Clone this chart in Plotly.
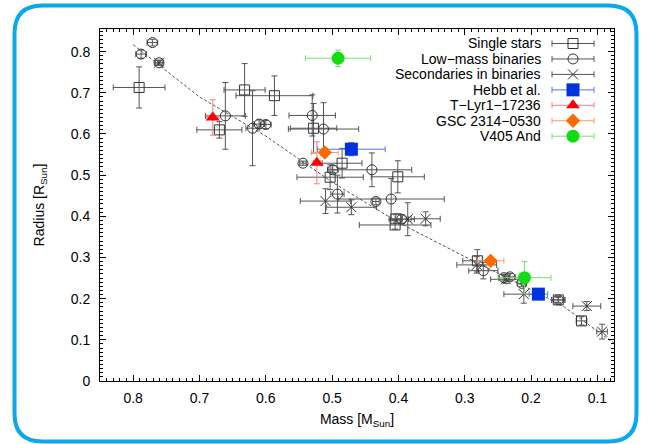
import plotly.graph_objects as go

# ---------------- data ----------------
single_mass = [0.791, 0.670, 0.632, 0.587, 0.528, 0.485, 0.503, 0.401, 0.404, 0.405, 0.281, 0.124, 0.159]
single_rad = [0.713, 0.610, 0.707, 0.693, 0.614, 0.529, 0.495, 0.496, 0.394, 0.379, 0.292, 0.146, 0.197]
single_mass_err = [0.039, 0.034, 0.031, 0.058, 0.035, 0.030, 0.050, 0.040, 0.010, 0.054, 0.022, 0.008, 0.010]
single_rad_err = [0.050, 0.020, 0.064, 0.048, 0.060, 0.036, 0.030, 0.039, 0.010, 0.010, 0.027, 0.010, 0.008]

binary_mass = [0.771, 0.788, 0.761, 0.661, 0.620, 0.610, 0.600, 0.530, 0.513, 0.544, 0.499,
               0.440, 0.492, 0.434, 0.411, 0.395, 0.272, 0.241, 0.232, 0.214, 0.159]
binary_rad = [0.822, 0.794, 0.773, 0.644, 0.614, 0.624, 0.623, 0.645, 0.612, 0.529, 0.513,
              0.513, 0.454, 0.436, 0.442, 0.393, 0.268, 0.251, 0.253, 0.237, 0.197]
binary_mass_err = [0.008, 0.008, 0.006, 0.030, 0.010, 0.008, 0.008, 0.035, 0.053, 0.005, 0.008,
                   0.060, 0.010, 0.005, 0.080, 0.010, 0.022, 0.008, 0.008, 0.006, 0.010]
binary_rad_err = [0.008, 0.010, 0.006, 0.081, 0.091, 0.010, 0.010, 0.050, 0.064, 0.005, 0.010,
                  0.041, 0.046, 0.008, 0.050, 0.010, 0.020, 0.008, 0.008, 0.008, 0.006]

second_mass = [0.761, 0.510, 0.471, 0.386, 0.359, 0.282, 0.238, 0.211, 0.116, 0.093]
second_rad = [0.773, 0.437, 0.422, 0.393, 0.394, 0.282, 0.247, 0.211, 0.182, 0.120]
second_mass_err = [0.006, 0.038, 0.038, 0.010, 0.022, 0.030, 0.023, 0.030, 0.021, 0.008]
second_rad_err = [0.006, 0.030, 0.018, 0.040, 0.017, 0.020, 0.010, 0.022, 0.011, 0.018]

hebb_mass = [0.471, 0.189]
hebb_rad = [0.563, 0.211]
hebb_mass_err = [0.051, 0.014]
hebb_rad_err = [0.016, 0.006]

tlyr_mass = [0.680, 0.523]
tlyr_rad = [0.640, 0.530]
tlyr_mass_err = [0.009, 0.005]
tlyr_rad_err = [0.043, 0.051]

gsc_mass = [0.511, 0.261]
gsc_rad = [0.555, 0.292]
gsc_mass_err = [0.020, 0.020]
gsc_rad_err = [0.010, 0.008]

v405_mass = [0.491, 0.210]
v405_rad = [0.784, 0.251]
v405_mass_err = [0.049, 0.040]
v405_rad_err = [0.020, 0.039]

model_mass = [0.8, 0.7, 0.6, 0.5, 0.4, 0.3, 0.2, 0.15, 0.1, 0.075]
model_rad = [0.817, 0.69, 0.595, 0.483, 0.385, 0.302, 0.222, 0.18, 0.121, 0.092]

x_ticks = [0.8, 0.7, 0.6, 0.5, 0.4, 0.3, 0.2, 0.1]
y_ticks = [0, 0.1, 0.2, 0.3, 0.4, 0.5, 0.6, 0.7, 0.8]

legend_names = ["Single stars", "Low\u2212mass binaries", "Secondaries in binaries",
                "Hebb et al.", "T\u2212Lyr1\u221217236", "GSC 2314\u22120530", "V405 And"]

# ---------------- styles ----------------
FONT = "Liberation Sans, Arial, Helvetica, sans-serif"
styles = [
    dict(symbol="square-open", size=10, color="#333333", line=dict(width=1, color="#333333"), err="#555555"),
    dict(symbol="circle-open", size=10, color="#333333", line=dict(width=1, color="#333333"), err="#555555"),
    dict(symbol="x-thin-open", size=10, color="#333333", line=dict(width=1, color="#333333"), err="#555555"),
    dict(symbol="square", size=13, color="#0033dd", line=dict(width=0), err="#5577dd"),
    dict(symbol="triangle-up", size=12, color="#ff0000", line=dict(width=0), err="#f08080"),
    dict(symbol="diamond", size=11, color="#ff6a00", line=dict(width=0), err="#ff9966"),
    dict(symbol="circle", size=13, color="#11dd11", line=dict(width=0), err="#77e077"),
]
series = [
    (single_mass, single_rad, single_mass_err, single_rad_err),
    (binary_mass, binary_rad, binary_mass_err, binary_rad_err),
    (second_mass, second_rad, second_mass_err, second_rad_err),
    (hebb_mass, hebb_rad, hebb_mass_err, hebb_rad_err),
    (tlyr_mass, tlyr_rad, tlyr_mass_err, tlyr_rad_err),
    (gsc_mass, gsc_rad, gsc_mass_err, gsc_rad_err),
    (v405_mass, v405_rad, v405_mass_err, v405_rad_err),
]

fig = go.Figure()

fig.add_trace(go.Scatter(x=model_mass, y=model_rad, mode="lines",
                         line=dict(color="#555555", width=1, dash="3px,2px"),
                         showlegend=False, hoverinfo="skip"))

for (mx, ry, mxe, rye), st in zip(series, styles):
    fig.add_trace(go.Scatter(
        x=mx, y=ry, mode="markers",
        marker=dict(symbol=st["symbol"], size=st["size"], color=st["color"], line=st["line"]),
        error_x=dict(type="data", array=mxe, color=st["err"], thickness=1, width=3),
        error_y=dict(type="data", array=rye, color=st["err"], thickness=1, width=3),
        showlegend=False,
    ))

# ---------------- custom legend (symbol to the right of text) ----------------
W, H = 650, 444
L, R, T, B = 100, 36, 29, 63
pw, ph = W - L - R, H - T - B


def px2paper_x(px):
    return (px - L) / pw


def py2paper_y(py):
    return (H - B - py) / ph


leg_sym_x = px2paper_x(573)
leg_text_x = px2paper_x(543)
leg_half = 21 / pw
for i, (name, st) in enumerate(zip(legend_names, styles)):
    yy = py2paper_y(43.5 + 15.45 * i)
    fig.add_trace(go.Scatter(
        x=[leg_sym_x], y=[yy], xaxis="x2", yaxis="y2", mode="markers",
        marker=dict(symbol=st["symbol"], size=st["size"], color=st["color"], line=st["line"]),
        error_x=dict(type="constant", value=leg_half, color=st["err"], thickness=1, width=3),
        showlegend=False, hoverinfo="skip"))
    fig.add_annotation(x=leg_text_x, y=yy, xref="paper", yref="paper", text=name,
                       showarrow=False, xanchor="right", yanchor="middle",
                       font=dict(size=14, color="black", family=FONT))

# ---------------- rounded blue frame ----------------
bx0, bx1, by0, by1, rad = 14.5, 636.5, 5.5, 441.5, 28
X0, X1 = px2paper_x(bx0), px2paper_x(bx1)
Y0, Y1 = py2paper_y(by1), py2paper_y(by0)
rx, ry = rad / pw, rad / ph
path = (f"M {X0+rx},{Y1} L {X1-rx},{Y1} Q {X1},{Y1} {X1},{Y1-ry} "
        f"L {X1},{Y0+ry} Q {X1},{Y0} {X1-rx},{Y0} L {X0+rx},{Y0} Q {X0},{Y0} {X0},{Y0+ry} "
        f"L {X0},{Y1-ry} Q {X0},{Y1} {X0+rx},{Y1} Z")
fig.add_shape(type="path", path=path, xref="paper", yref="paper",
              line=dict(color="#0aa8ec", width=4), layer="below")

axis_common = dict(showline=True, linecolor="black", linewidth=1, mirror="allticks",
                   ticks="inside", ticklen=6, tickcolor="black", tickwidth=1,
                   showgrid=False, zeroline=False,
                   tickfont=dict(size=14, color="black", family=FONT),
                   minor=dict(ticks="inside", ticklen=3, dtick=0.01, tickcolor="black", showgrid=False))

fig.update_layout(
    width=W, height=H,
    margin=dict(l=L, r=R, t=T, b=B),
    paper_bgcolor="white", plot_bgcolor="white",
    font=dict(family=FONT, color="black", size=14),
    xaxis=dict(range=[0.85, 0.075], tickvals=x_ticks, ticktext=[f"{v:.1f}" for v in x_ticks],
               title=dict(text="Mass [M<sub>Sun</sub>]", font=dict(size=14), standoff=9),
               ticklabelstandoff=4, **axis_common),
    yaxis=dict(range=[0, 0.855], tickvals=y_ticks, ticktext=["0"] + [f"{v:.1f}" for v in y_ticks[1:]],
               title=dict(text="Radius [R<sub>Sun</sub>]", font=dict(size=14), standoff=22),
               ticklabelstandoff=6, **axis_common),
    xaxis2=dict(overlaying="x", range=[0, 1], visible=False),
    yaxis2=dict(overlaying="y", range=[0, 1], visible=False),
    showlegend=False,
)

fig.write_html("out.html", config={"displayModeBar": False},
               post_script="document.body.style.margin='0';")
